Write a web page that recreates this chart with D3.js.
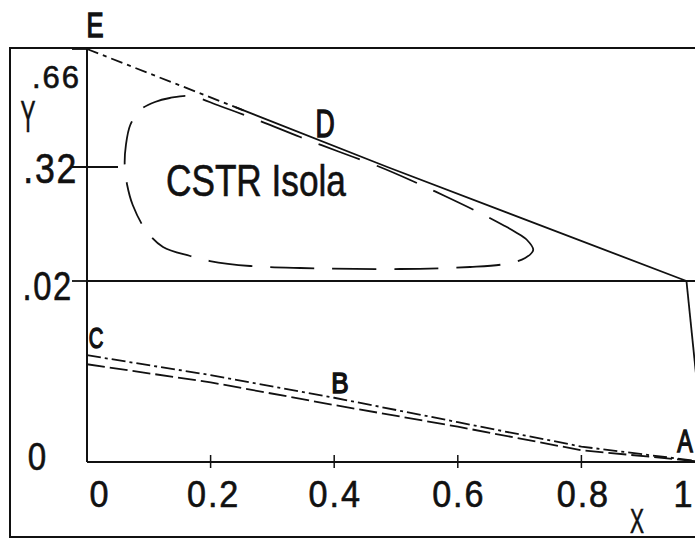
<!DOCTYPE html>
<html>
<head>
<meta charset="utf-8">
<script src="https://cdn.jsdelivr.net/npm/d3@7"></script>
<style>
  body { margin: 0; background: #fff; }
  text { font-family: "Liberation Sans", Arial, sans-serif; fill: #111; stroke: #111; stroke-width: 0.6px; }
</style>
</head>
<body>
<script>
// tick values and labels
var xTicks = [0, 0.2, 0.4, 0.6, 0.8, 1];
var xTickLabels = ["0", "0.2", "0.4", "0.6", "0.8", "1"];
var yTicks = [0, 0.02, 0.32, 0.66];
var yTickLabels = ["0", ".02", ".32", ".66"];

// upper branch E -> D -> (x=.97, y=.02)
var upperDashX = [0, 0.26];
var upperDashY = [0.66, 0.4785];
var upperSolidX = [0.24, 0.486, 0.97];
var upperSolidY = [0.4923, 0.32, 0.02];
var dropX = [0.97, 1];
var dropY = [0.02, 0];
var sepX = [0, 1];
var sepY = [0.02, 0.02];

// lower branch A -> B -> C
var lowerX = [0, 0.2, 0.4, 0.6, 0.8, 1];
var lowerDashDotY = [0.0118, 0.0096, 0.0071, 0.0044, 0.0017, 0];
var lowerDashY = [0.0108, 0.0088, 0.0063, 0.0039, 0.0013, 0];

// CSTR isola (closed loop)
var isolaX = [0.722, 0.712, 0.693, 0.673, 0.636, 0.579, 0.523, 0.474, 0.409, 0.345, 0.280, 0.215, 0.167, 0.134, 0.110, 0.086, 0.070, 0.063, 0.061, 0.065, 0.074, 0.095, 0.123, 0.167, 0.199, 0.264, 0.345, 0.506, 0.620, 0.676, 0.709];
var isolaY = [0.1016, 0.1279, 0.149, 0.1674, 0.199, 0.2437, 0.2858, 0.32, 0.3632, 0.4064, 0.4525, 0.4957, 0.5246, 0.5188, 0.5073, 0.4842, 0.441, 0.3834, 0.3258, 0.2727, 0.22, 0.1542, 0.1095, 0.0858, 0.0726, 0.0595, 0.0542, 0.0516, 0.0568, 0.0647, 0.0805];

var svg = d3.select("body")
  .append("svg")
  .attr("width", 695)
  .attr("height", 543);

var x = d3.scaleLinear().domain([0, 1]).range([87, 705]);
var y = d3.scaleLinear().domain([0, 0.02, 0.32, 0.66]).range([462, 281, 167, 49]);

function pts(xs, ys) { return xs.map(function(d, i) { return [d, ys[i]]; }); }

var line = d3.line().x(function(d) { return x(d[0]); }).y(function(d) { return y(d[1]); });
var loop = d3.line().x(function(d) { return x(d[0]); }).y(function(d) { return y(d[1]); })
  .curve(d3.curveCatmullRomClosed.alpha(0.5));

// narrow lettering: squeeze the text horizontally
function label(txt, cx, cy, size, sx, anchor) {
  return svg.append("text")
    .attr("transform", "translate(" + cx + "," + cy + ") scale(" + sx + ",1)")
    .attr("text-anchor", anchor || "middle")
    .attr("font-size", size + "px")
    .text(txt);
}

// outer frame
svg.append("rect")
  .attr("x", 10).attr("y", 48)
  .attr("width", 720).attr("height", 489)
  .attr("fill", "none").attr("stroke", "#111").attr("stroke-width", 2);

// axes
svg.append("line")
  .attr("x1", x(0)).attr("x2", x(0))
  .attr("y1", y(0.66)).attr("y2", y(0))
  .attr("stroke", "#111").attr("stroke-width", 2);
svg.append("line")
  .attr("x1", x(0)).attr("x2", x(1))
  .attr("y1", y(0)).attr("y2", y(0))
  .attr("stroke", "#111").attr("stroke-width", 2);

// x ticks
svg.selectAll(".xtick")
  .data(xTicks.slice(1, 5))
  .enter()
  .append("line")
  .attr("x1", function(d) { return x(d); })
  .attr("x2", function(d) { return x(d); })
  .attr("y1", y(0) - 7).attr("y2", y(0) + 6)
  .attr("stroke", "#111").attr("stroke-width", 1.5);

// y ticks (the .32 one reaches into the plot)
var yTickEnd = [0, 87, 118, 90];
svg.selectAll(".ytick")
  .data(yTicks.slice(1))
  .enter()
  .append("line")
  .attr("x1", 72)
  .attr("x2", function(d, i) { return yTickEnd[i + 1]; })
  .attr("y1", function(d) { return y(d); })
  .attr("y2", function(d) { return y(d); })
  .attr("stroke", "#111").attr("stroke-width", 1.8);

// x tick labels
var xLabelDx = [13, 3, 1, 1, 2, -21];
xTicks.forEach(function(d, i) {
  label(xTickLabels[i], x(d) + xLabelDx[i], 507, 36, 0.95).style("letter-spacing", "2px");
});

// y tick labels
var yLabelX = [48, 73, 78, 81];
var yLabelDy = [8, 19, 16, 39];
var yLabelSize = [39, 40, 42, 31];
var yLabelSx = [0.85, 0.82, 0.85, 1];
yTicks.forEach(function(d, i) {
  label(yTickLabels[i], yLabelX[i], y(d) + yLabelDy[i], yLabelSize[i], yLabelSx[i], "end")
    .style("letter-spacing", "2px");
});

// axis titles
label("Y", 28, 132, 45, 0.5);
label("X", 637, 533, 35, 0.6);

// curves
svg.append("path").datum(pts(sepX, sepY)).attr("d", line)
  .attr("fill", "none").attr("stroke", "#111").attr("stroke-width", 2);
svg.append("path").datum(pts(upperSolidX, upperSolidY)).attr("d", line)
  .attr("fill", "none").attr("stroke", "#111").attr("stroke-width", 1.8);
svg.append("path").datum(pts(upperDashX, upperDashY)).attr("d", line)
  .attr("fill", "none").attr("stroke", "#111").attr("stroke-width", 1.8)
  .attr("stroke-dasharray", "12,5,4,5");
svg.append("path").datum(pts(dropX, dropY)).attr("d", line)
  .attr("fill", "none").attr("stroke", "#111").attr("stroke-width", 1.8);
svg.append("path").datum(pts(lowerX, lowerDashDotY)).attr("d", line)
  .attr("fill", "none").attr("stroke", "#111").attr("stroke-width", 1.8)
  .attr("stroke-dasharray", "14,4,3,4");
svg.append("path").datum(pts(lowerX, lowerDashY)).attr("d", line)
  .attr("fill", "none").attr("stroke", "#111").attr("stroke-width", 1.8)
  .attr("stroke-dasharray", "18,5");
svg.append("path").datum(pts(isolaX, isolaY)).attr("d", loop)
  .attr("fill", "none").attr("stroke", "#111").attr("stroke-width", 1.8)
  .attr("stroke-dasharray", "44,18");

// point labels
var pointNames = ["E", "D", "C", "B", "A"];
var pointX = [95, 325, 96, 340, 685];
var pointY = [37, 137, 348, 393, 452];
var pointSize = [35, 38, 29, 29, 31];
var pointSx = [0.73, 0.7, 0.7, 0.9, 0.75];
pointNames.forEach(function(d, i) {
  label(d, pointX[i], pointY[i], pointSize[i], pointSx[i]).style("stroke-width", "1.4px");
});

label("CSTR Isola", 166, 196, 44, 0.8, "start");
</script>
</body>
</html>
